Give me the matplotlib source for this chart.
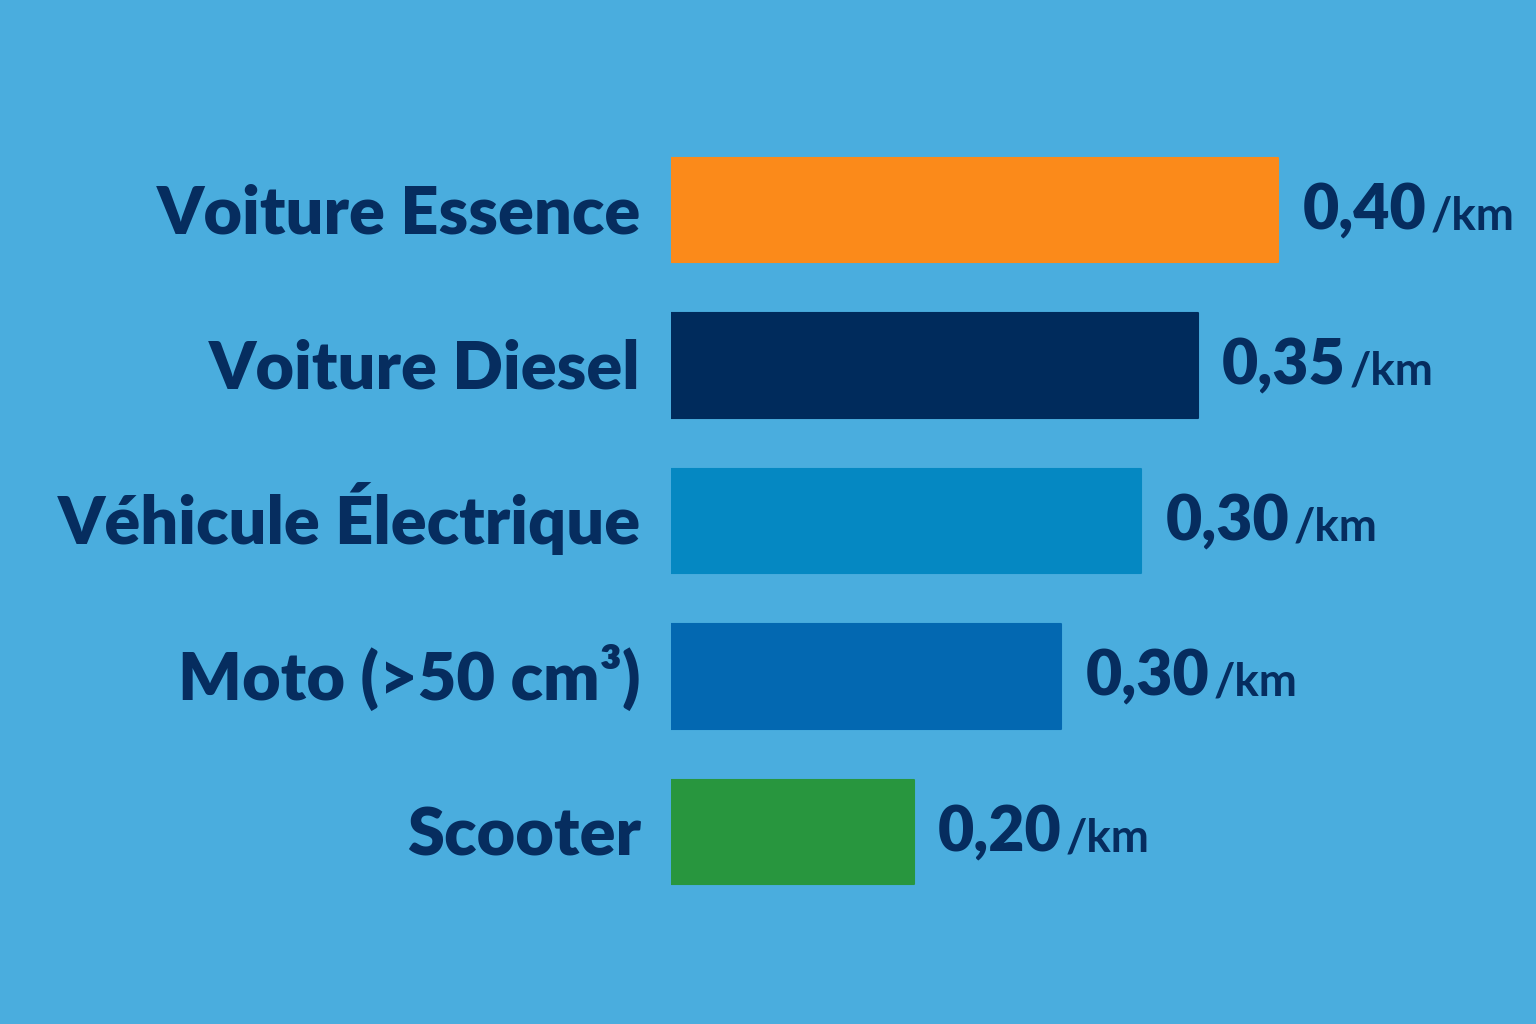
import matplotlib.pyplot as plt

# data
categories = ["Voiture Essence", "Voiture Diesel", "Véhicule Électrique",
              "Moto (>50 cm³)", "Scooter"]
bar_values = [0.40, 0.347, 0.31, 0.257, 0.16]
value_labels = ["0,40", "0,35", "0,30", "0,30", "0,20"]
unit = "/km"
colors = ["#fb8a1a", "#002b5c", "#0588c2", "#0368b1", "#28963e"]

bg = "#4aadde"
ink = "#062d5f"
plt.rcParams['font.family'] = ['Lato', 'DejaVu Sans']

fig = plt.figure(figsize=(15.36, 10.24), dpi=100, facecolor=bg)
ax = fig.add_axes([671/1536, 1 - 909.75/1024, 758.75/1536, 777.5/1024])
ax.set_facecolor(bg)

y = list(range(len(categories)))
bars = ax.barh(y, bar_values, height=0.675, color=colors,
               edgecolor=colors, linewidth=1.5)
for b in bars:
    b.set_joinstyle('round')

ax.set_xlim(0, 0.5)
ax.set_ylim(4.5, -0.5)
ax.axis('off')

for i, (v, lab) in enumerate(zip(bar_values, value_labels)):
    # category on the left
    ax.text(-0.02, i + 0.15, categories[i], ha='right', va='baseline',
            fontsize=48, fontweight='heavy', color=ink)
    # number + unit on the right
    base = i + 0.125
    t = ax.text(v + 0.016, base, lab, ha='left', va='baseline',
                fontsize=45, fontweight='heavy', color=ink)
    ax.annotate(unit, xy=(1, base), xycoords=(t, 'data'), xytext=(3, 0),
                textcoords='offset points', ha='left', va='baseline',
                fontsize=33, fontweight='bold', color=ink)

fig.savefig("out.png", dpi=100, facecolor=bg)
